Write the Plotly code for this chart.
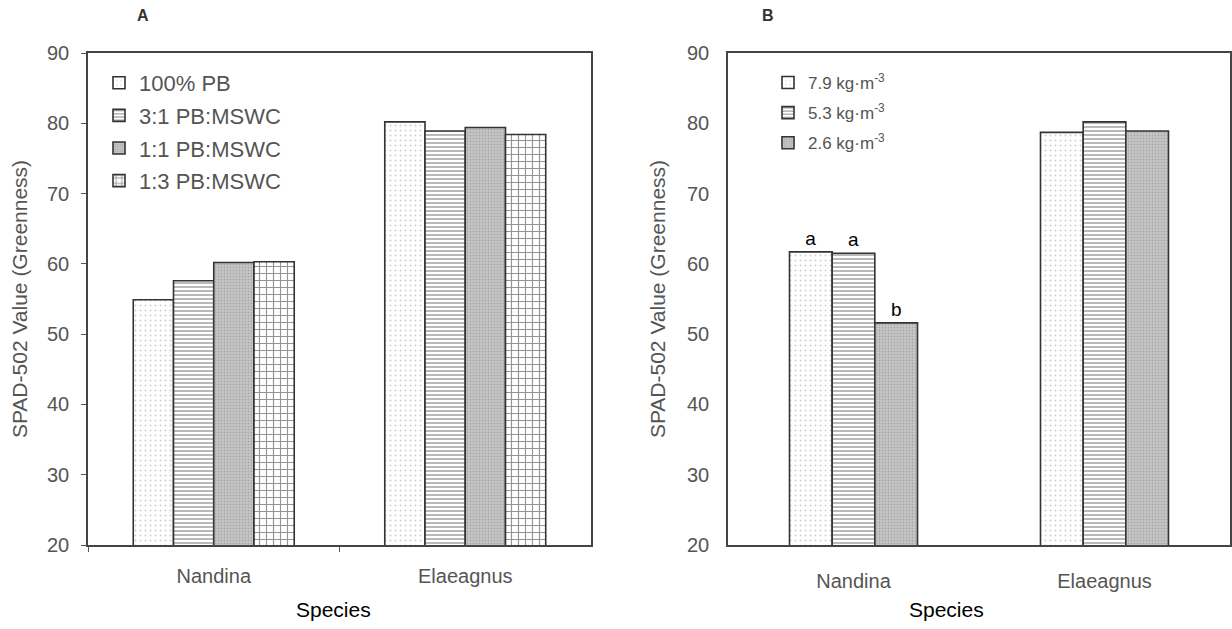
import plotly.graph_objects as go

species = ["Nandina", "Elaeagnus"]

# Panel A: substrate treatments
treat_a = ["100% PB", "3:1 PB:MSWC", "1:1 PB:MSWC", "1:3 PB:MSWC"]
vals_a = [
    [54.9, 80.2],
    [57.6, 78.9],
    [60.2, 79.4],
    [60.3, 78.4],
]

# Panel B: fertilizer rates
treat_b = ["7.9 kg·m<sup>-3</sup>", "5.3 kg·m<sup>-3</sup>", "2.6 kg·m<sup>-3</sup>"]
vals_b = [
    [61.7, 78.7],
    [61.5, 80.2],
    [51.6, 78.9],
]
letters_b = [["a", ""], ["a", ""], ["b", ""]]

y_ticks = [20, 30, 40, 50, 60, 70, 80, 90]

FONT = "Liberation Sans"

styles = [
    dict(shape=".", fgcolor="#a0a0a0", bgcolor="#ffffff", size=5, solidity=0.12),
    dict(shape="-", fgcolor="#505050", bgcolor="#ffffff", size=4, solidity=0.4),
    dict(shape=".", fgcolor="#8c8c8c", bgcolor="#c6c6c6", size=3, solidity=0.3),
    dict(shape="+", fgcolor="#2a2a2a", bgcolor="#ffffff", size=7, solidity=0.3),
]

WA = 0.16   # bar width (category units), panel A
WB = 0.17   # bar width (category units), panel B

fig = go.Figure()

na = len(treat_a)
for i, name in enumerate(treat_a):
    fig.add_trace(go.Bar(
        x=species, y=vals_a[i], name=name, xaxis="x", yaxis="y",
        legendgroup="a%d" % i, width=WA, offset=(i - na / 2) * WA,
        marker=dict(color=styles[i]["bgcolor"], pattern=styles[i],
                    line=dict(color="#333333", width=1.6)),
        legend="legend",
    ))

nb = len(treat_b)
for i, name in enumerate(treat_b):
    fig.add_trace(go.Bar(
        x=species, y=vals_b[i], name=name, xaxis="x2", yaxis="y2",
        legendgroup="b%d" % i, width=WB, offset=(i - nb / 2) * WB,
        text=letters_b[i], textposition="outside", cliponaxis=False,
        textfont=dict(size=19, color="#000000", family=FONT),
        marker=dict(color=styles[i]["bgcolor"], pattern=styles[i],
                    line=dict(color="#333333", width=1.6)),
        legend="legend2",
    ))

W = 1232
H = 629
ytop = 1 - 53 / H
ybot = 1 - 545 / H

axis_common = dict(showline=True, linecolor="#444444", linewidth=1.6, mirror=True,
                   showgrid=False, zeroline=False, automargin=False,
                   tickfont=dict(size=20, color="#555555", family=FONT))

ytitle = "SPAD-502 Value (Greenness)"

fig.update_layout(
    width=W, height=H,
    margin=dict(l=0, r=0, t=0, b=0, autoexpand=False),
    paper_bgcolor="white", plot_bgcolor="white",
    font=dict(family=FONT, color="#555555"),
    barmode="overlay",
    xaxis=dict(domain=[88 / W, 591 / W], anchor="y", tickson="boundaries",
               ticks="outside", ticklen=5, tickcolor="#555555", ticklabelstandoff=12,
               **axis_common),
    yaxis=dict(domain=[ybot, ytop], anchor="x", range=[20, 90], tickvals=y_ticks,
               ticks="outside", ticklen=5, tickcolor="#555555", ticklabelstandoff=8,
               title=dict(text=ytitle, font=dict(size=21, color="#555555"), standoff=14),
               **axis_common),
    xaxis2=dict(domain=[728 / W, 1230 / W], anchor="y2", tickson="boundaries",
                ticks="", ticklabelstandoff=17,
                **axis_common),
    yaxis2=dict(domain=[ybot, ytop], anchor="x2", range=[20, 90], tickvals=y_ticks,
                ticks="", ticklabelstandoff=13,
                title=dict(text=ytitle, font=dict(size=21, color="#555555"), standoff=16),
                **axis_common),
    legend=dict(x=99 / W, y=1 - 62 / H, xanchor="left", yanchor="top",
                font=dict(size=22, color="#555555"), bgcolor="rgba(0,0,0,0)",
                itemwidth=30, tracegroupgap=1, traceorder="grouped"),
    legend2=dict(x=768 / W, y=1 - 65 / H, xanchor="left", yanchor="top",
                 font=dict(size=17, color="#555555"), bgcolor="rgba(0,0,0,0)",
                 itemwidth=30, tracegroupgap=5, traceorder="grouped"),
    annotations=[
        dict(text="<b>A</b>", x=143 / W, y=1 - 15 / H, xref="paper", yref="paper",
             xanchor="center", yanchor="middle",
             showarrow=False, font=dict(size=16, color="#333333")),
        dict(text="<b>B</b>", x=768 / W, y=1 - 15 / H, xref="paper", yref="paper",
             xanchor="center", yanchor="middle",
             showarrow=False, font=dict(size=16, color="#333333")),
        dict(text="Species", x=333 / W, y=1 - 609 / H, xref="paper", yref="paper",
             xanchor="center", yanchor="middle",
             showarrow=False, font=dict(size=21, color="#000000", family=FONT)),
        dict(text="Species", x=946 / W, y=1 - 609 / H, xref="paper", yref="paper",
             xanchor="center", yanchor="middle",
             showarrow=False, font=dict(size=21, color="#000000", family=FONT)),
    ],
)

fig.write_html("out.html", config={"displayModeBar": False},
               post_script="document.body.style.margin='0';")
